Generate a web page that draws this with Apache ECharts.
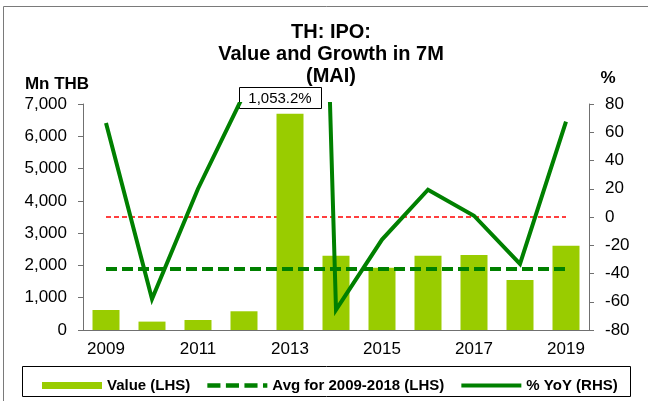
<!DOCTYPE html>
<html>
<head>
<meta charset="utf-8">
<script src="https://cdn.jsdelivr.net/npm/echarts@6/dist/echarts.min.js"></script>
<style>
  html, body { margin: 0; padding: 0; background: #fff; }
  #main { width: 648px; height: 401px; }
</style>
</head>
<body>
<div id="main"></div>
<script>
// data
const years = ["2009", "2010", "2011", "2012", "2013", "2014", "2015", "2016", "2017", "2018", "2019"];
const ipoValue = [620, 260, 310, 580, 6700, 2300, 1930, 2300, 2320, 1550, 2610];
const avgValue = [1890, 1890, 1890, 1890, 1890, 1890, 1890, 1890, 1890, 1890, 1890];
const yoyGrowth = [66.5, -58, 20, 87, 1053.2, -65.7, -16, 19.3, 0.9, -33.2, 67.5];
const zeroLine = [0, 0, 0, 0, 0, 0, 0, 0, 0, 0, 0];
const leftTicks = { min: 0, max: 7000, step: 1000 };
const rightTicks = { min: -80, max: 80, step: 20 };

const font = "Liberation Sans, Arial, sans-serif";
const green = "#008000";

function fmtPct(v) {
  return v.toLocaleString("en-US", { minimumFractionDigits: 1, maximumFractionDigits: 1 }) + "%";
}

const options = {
  animation: false,
  textStyle: { fontFamily: font },
  grid: { left: 83, right: 59, top: 104, bottom: 71 },
  graphic: [
    {
      type: "rect", silent: true, z: -10,
      shape: { x: 3.5, y: 6.5, width: 700, height: 500 },
      style: { fill: null, stroke: "#7a7a7a", lineWidth: 1 }
    },
    {
      type: "text", x: 331, y: 21,
      style: {
        text: "TH: IPO:\nValue and Growth in 7M\n(MAI)",
        font: "bold 20px " + font, lineHeight: 22,
        textAlign: "center", fill: "#000"
      }
    },
    {
      type: "group", x: 239, y: 87, z: 20,
      children: [
        { type: "rect", shape: { x: 0.5, y: 0.5, width: 82, height: 21 },
          style: { fill: "#fff", stroke: "#000", lineWidth: 1 } },
        { type: "text", x: 41, y: 11.5,
          style: { text: fmtPct(yoyGrowth[4]), font: "15px " + font,
                   textAlign: "center", textVerticalAlign: "middle", fill: "#000" } }
      ]
    },
    {
      type: "rect", silent: true,
      shape: { x: 22.5, y: 366.5, width: 608, height: 30 },
      style: { fill: null, stroke: "#000", lineWidth: 1 }
    }
  ],
  legend: {
    left: 37, top: 373,
    itemWidth: 60, itemHeight: 14, itemGap: 17,
    textStyle: { fontFamily: font, fontSize: 15, fontWeight: "bold", color: "#000" },
    data: [
      { name: "Value (LHS)", icon: "path://M0,0H58V7H0Z", itemStyle: { color: "#99cc00" } },
      { name: "Avg for 2009-2018 (LHS)",
        icon: "path://M0,0H12V4H0Z M17,0H29V4H17Z M34,0H46V4H34Z M51,0H55V4H51Z",
        itemStyle: { color: green } },
      { name: "% YoY (RHS)", icon: "path://M0,0H60V4H0Z", itemStyle: { color: green } }
    ]
  },
  xAxis: {
    type: "category",
    data: years,
    axisLine: { lineStyle: { color: "#707070", width: 1 } },
    axisTick: { interval: 0, length: 5, lineStyle: { color: "#707070" } },
    axisLabel: { interval: 1, fontSize: 17, color: "#000", margin: 11, fontFamily: font }
  },
  yAxis: [
    {
      type: "value",
      min: leftTicks.min, max: leftTicks.max, interval: leftTicks.step,
      name: "Mn THB",
      nameLocation: "end", nameGap: 11,
      nameTextStyle: { fontFamily: font, fontSize: 17, fontWeight: "bold", color: "#000",
                       align: "center", padding: [0, 52, 0, 0] },
      splitLine: { show: false },
      axisLine: { show: true, lineStyle: { color: "#707070" } },
      axisTick: { show: true, length: 5, lineStyle: { color: "#707070" } },
      axisLabel: { fontSize: 17, color: "#000", margin: 16, fontFamily: font,
                   formatter: (v) => v.toLocaleString("en-US") }
    },
    {
      type: "value",
      min: rightTicks.min, max: rightTicks.max, interval: rightTicks.step,
      name: "%",
      nameLocation: "end", nameGap: 17,
      nameTextStyle: { fontFamily: font, fontSize: 17, fontWeight: "bold", color: "#000",
                       align: "center", padding: [0, 0, 0, 38] },
      splitLine: { show: false },
      axisLine: { show: true, lineStyle: { color: "#707070" } },
      axisTick: { show: true, length: 5, lineStyle: { color: "#707070" } },
      axisLabel: { fontSize: 17, color: "#000", margin: 16, fontFamily: font }
    }
  ],
  series: [
    {
      name: "Zero",
      type: "line",
      yAxisIndex: 1,
      data: zeroLine,
      symbol: "none",
      z: 1,
      lineStyle: { color: "#ff0000", width: 1.5, type: [5, 3] }
    },
    {
      name: "Value (LHS)",
      type: "bar",
      data: ipoValue,
      barWidth: 27,
      z: 2,
      itemStyle: { color: "#99cc00" }
    },
    {
      name: "Avg for 2009-2018 (LHS)",
      type: "line",
      data: avgValue,
      symbol: "none",
      z: 3,
      itemStyle: { color: green },
      lineStyle: { color: green, width: 4, type: [11, 5] }
    },
    {
      name: "% YoY (RHS)",
      type: "line",
      yAxisIndex: 1,
      data: yoyGrowth,
      symbol: "none",
      clip: true,
      z: 4,
      itemStyle: { color: green },
      lineStyle: { color: green, width: 4, join: "miter" }
    }
  ]
};

var myChart = echarts.init(document.getElementById("main"));
myChart.setOption(options);
window.onresize = function() {
  myChart.resize();
};
</script>
</body>
</html>
